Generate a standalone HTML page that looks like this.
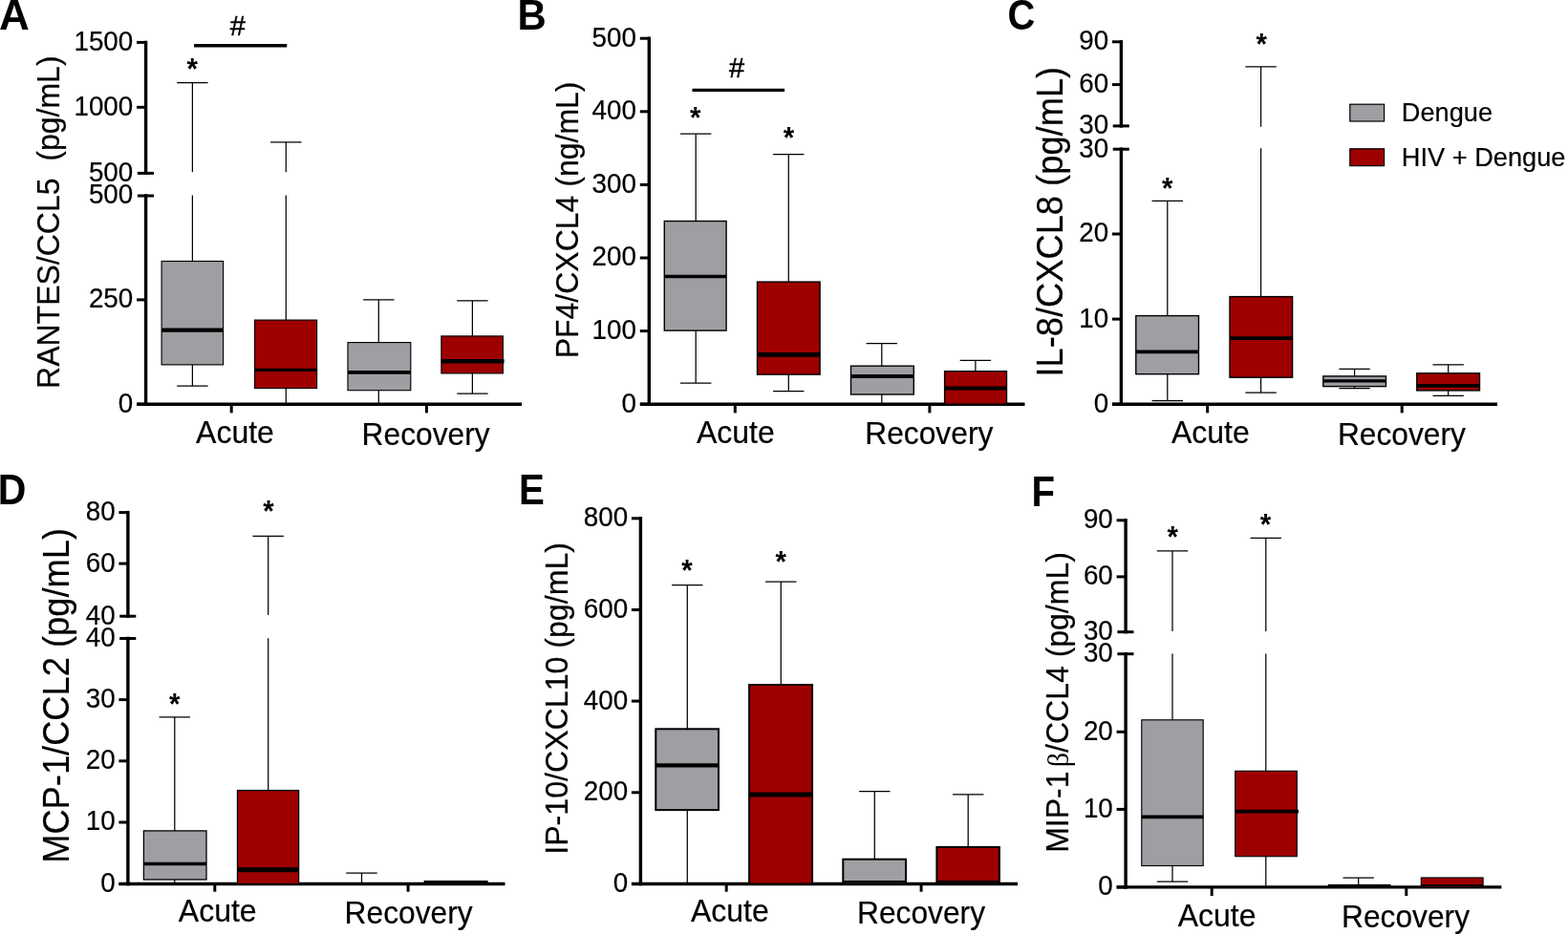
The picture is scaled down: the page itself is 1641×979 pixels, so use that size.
<!DOCTYPE html>
<html lang="en">
<head>
<meta charset="utf-8">
<title>Chemokine levels in Dengue and HIV + Dengue patients</title>
<style>
html,body{margin:0;padding:0;background:#fff;}
body{width:1641px;height:979px;overflow:hidden;}
svg{display:block;}
text{font-kerning:normal;}
</style>
</head>
<body>
<svg width="1641" height="979" viewBox="0 0 1641 979" role="img" aria-label="Box plots of chemokine levels in Dengue and HIV + Dengue patients during acute and recovery phases" font-family='"Liberation Sans", Arial, Helvetica, sans-serif' fill="#000">
<rect x="0" y="0" width="1641" height="979" fill="#fff"/>
<g id="panel-A">
<line x1="152.60" y1="42.70" x2="152.60" y2="183.10" stroke="#000" stroke-width="3.4" stroke-linecap="butt"/>
<line x1="152.60" y1="203.30" x2="152.60" y2="424.90" stroke="#000" stroke-width="3.4" stroke-linecap="butt"/>
<line x1="143.20" y1="423.20" x2="546.00" y2="423.20" stroke="#000" stroke-width="3.4" stroke-linecap="butt"/>
<line x1="143.10" y1="44.40" x2="152.60" y2="44.40" stroke="#000" stroke-width="3.0" stroke-linecap="butt"/>
<text transform="translate(139.30,52.80) scale(1.0,1.03)" font-size="27.8" text-anchor="end" stroke="#000" stroke-width="0.2" xml:space="preserve">1500</text>
<line x1="143.10" y1="112.30" x2="152.60" y2="112.30" stroke="#000" stroke-width="3.0" stroke-linecap="butt"/>
<text transform="translate(139.30,120.70) scale(1.0,1.03)" font-size="27.8" text-anchor="end" stroke="#000" stroke-width="0.2" xml:space="preserve">1000</text>
<line x1="143.90" y1="181.40" x2="161.00" y2="181.40" stroke="#000" stroke-width="3.0" stroke-linecap="butt"/>
<text transform="translate(139.30,189.80) scale(1.0,1.03)" font-size="27.8" text-anchor="end" stroke="#000" stroke-width="0.2" xml:space="preserve">500</text>
<line x1="143.90" y1="205.00" x2="161.00" y2="205.00" stroke="#000" stroke-width="3.0" stroke-linecap="butt"/>
<text transform="translate(139.30,213.40) scale(1.0,1.03)" font-size="27.8" text-anchor="end" stroke="#000" stroke-width="0.2" xml:space="preserve">500</text>
<line x1="143.10" y1="313.90" x2="152.60" y2="313.90" stroke="#000" stroke-width="3.0" stroke-linecap="butt"/>
<text transform="translate(139.30,322.30) scale(1.0,1.03)" font-size="27.8" text-anchor="end" stroke="#000" stroke-width="0.2" xml:space="preserve">250</text>
<line x1="143.10" y1="423.20" x2="152.60" y2="423.20" stroke="#000" stroke-width="3.0" stroke-linecap="butt"/>
<text transform="translate(139.30,431.60) scale(1.0,1.03)" font-size="27.8" text-anchor="end" stroke="#000" stroke-width="0.2" xml:space="preserve">0</text>
<line x1="242.20" y1="423.20" x2="242.20" y2="432.40" stroke="#000" stroke-width="3.0" stroke-linecap="butt"/>
<line x1="446.40" y1="423.20" x2="446.40" y2="432.40" stroke="#000" stroke-width="3.0" stroke-linecap="butt"/>
<text transform="translate(246.00,463.50) scale(1.0,1.03)" font-size="32" text-anchor="middle" stroke="#000" stroke-width="0.2" xml:space="preserve">Acute</text>
<text transform="translate(445.60,465.80) scale(0.992,1.03)" font-size="32" text-anchor="middle" stroke="#000" stroke-width="0.2" xml:space="preserve">Recovery</text>
<text transform="translate(-0.90,30.50) scale(1.05,1.045)" font-size="42" text-anchor="start" font-weight="bold" xml:space="preserve">A</text>
<text transform="translate(62.00,232.70) rotate(-90) scale(1.0,1.06)" font-size="32" text-anchor="middle" stroke="#000" stroke-width="0.2" xml:space="preserve">RANTES/CCL5  (pg/mL)</text>
<line x1="201.40" y1="86.60" x2="201.40" y2="180.20" stroke="#000" stroke-width="1.25" stroke-linecap="butt"/>
<line x1="201.40" y1="204.50" x2="201.40" y2="273.50" stroke="#000" stroke-width="1.25" stroke-linecap="butt"/>
<line x1="201.40" y1="381.90" x2="201.40" y2="404.20" stroke="#000" stroke-width="1.25" stroke-linecap="butt"/>
<line x1="185.20" y1="86.60" x2="217.60" y2="86.60" stroke="#000" stroke-width="1.25" stroke-linecap="butt"/>
<line x1="185.20" y1="404.20" x2="217.60" y2="404.20" stroke="#000" stroke-width="1.25" stroke-linecap="butt"/>
<rect x="169.10" y="273.50" width="64.50" height="108.40" fill="#a09ea3" stroke="#000" stroke-width="1.15"/>
<line x1="169.10" y1="345.65" x2="233.60" y2="345.65" stroke="#000" stroke-width="4.4" stroke-linecap="butt"/>
<line x1="299.30" y1="148.90" x2="299.30" y2="180.20" stroke="#000" stroke-width="1.25" stroke-linecap="butt"/>
<line x1="299.30" y1="204.50" x2="299.30" y2="335.10" stroke="#000" stroke-width="1.25" stroke-linecap="butt"/>
<line x1="299.30" y1="406.50" x2="299.30" y2="423.20" stroke="#000" stroke-width="1.25" stroke-linecap="butt"/>
<line x1="283.10" y1="148.90" x2="315.50" y2="148.90" stroke="#000" stroke-width="1.25" stroke-linecap="butt"/>
<rect x="266.50" y="335.10" width="65.10" height="71.40" fill="#9e0000" stroke="#000" stroke-width="1.15"/>
<line x1="266.50" y1="387.40" x2="331.60" y2="387.40" stroke="#000" stroke-width="3.4" stroke-linecap="butt"/>
<line x1="396.30" y1="313.80" x2="396.30" y2="358.60" stroke="#000" stroke-width="1.25" stroke-linecap="butt"/>
<line x1="396.30" y1="408.70" x2="396.30" y2="423.20" stroke="#000" stroke-width="1.25" stroke-linecap="butt"/>
<line x1="380.10" y1="313.80" x2="412.50" y2="313.80" stroke="#000" stroke-width="1.25" stroke-linecap="butt"/>
<rect x="364.00" y="358.60" width="65.80" height="50.10" fill="#a09ea3" stroke="#000" stroke-width="1.15"/>
<line x1="364.00" y1="389.80" x2="429.80" y2="389.80" stroke="#000" stroke-width="3.8" stroke-linecap="butt"/>
<line x1="494.40" y1="314.80" x2="494.40" y2="351.90" stroke="#000" stroke-width="1.25" stroke-linecap="butt"/>
<line x1="494.40" y1="390.90" x2="494.40" y2="412.20" stroke="#000" stroke-width="1.25" stroke-linecap="butt"/>
<line x1="478.20" y1="314.80" x2="510.60" y2="314.80" stroke="#000" stroke-width="1.25" stroke-linecap="butt"/>
<line x1="478.20" y1="412.20" x2="510.60" y2="412.20" stroke="#000" stroke-width="1.25" stroke-linecap="butt"/>
<rect x="461.90" y="351.90" width="64.50" height="39.00" fill="#9e0000" stroke="#000" stroke-width="1.15"/>
<line x1="461.90" y1="378.20" x2="527.60" y2="378.20" stroke="#000" stroke-width="4.4" stroke-linecap="butt"/>
<text transform="translate(201.30,82.55) scale(1.0,1.05)" font-size="29.5" text-anchor="middle" font-weight="bold" xml:space="preserve">*</text>
<line x1="203.10" y1="47.70" x2="300.30" y2="47.70" stroke="#000" stroke-width="3.4" stroke-linecap="butt"/>
<text transform="translate(248.80,37.20)" font-size="29" text-anchor="middle" stroke="#000" stroke-width="0.45" xml:space="preserve">#</text>
</g>
<g id="panel-B">
<line x1="679.30" y1="38.50" x2="679.30" y2="424.90" stroke="#000" stroke-width="3.4" stroke-linecap="butt"/>
<line x1="669.90" y1="423.20" x2="1072.50" y2="423.20" stroke="#000" stroke-width="3.4" stroke-linecap="butt"/>
<line x1="669.80" y1="40.20" x2="679.30" y2="40.20" stroke="#000" stroke-width="3.0" stroke-linecap="butt"/>
<text transform="translate(666.00,48.60) scale(1.0,1.03)" font-size="27.8" text-anchor="end" stroke="#000" stroke-width="0.2" xml:space="preserve">500</text>
<line x1="669.80" y1="116.80" x2="679.30" y2="116.80" stroke="#000" stroke-width="3.0" stroke-linecap="butt"/>
<text transform="translate(666.00,125.20) scale(1.0,1.03)" font-size="27.8" text-anchor="end" stroke="#000" stroke-width="0.2" xml:space="preserve">400</text>
<line x1="669.80" y1="193.40" x2="679.30" y2="193.40" stroke="#000" stroke-width="3.0" stroke-linecap="butt"/>
<text transform="translate(666.00,201.80) scale(1.0,1.03)" font-size="27.8" text-anchor="end" stroke="#000" stroke-width="0.2" xml:space="preserve">300</text>
<line x1="669.80" y1="270.00" x2="679.30" y2="270.00" stroke="#000" stroke-width="3.0" stroke-linecap="butt"/>
<text transform="translate(666.00,278.40) scale(1.0,1.03)" font-size="27.8" text-anchor="end" stroke="#000" stroke-width="0.2" xml:space="preserve">200</text>
<line x1="669.80" y1="346.60" x2="679.30" y2="346.60" stroke="#000" stroke-width="3.0" stroke-linecap="butt"/>
<text transform="translate(666.00,355.00) scale(1.0,1.03)" font-size="27.8" text-anchor="end" stroke="#000" stroke-width="0.2" xml:space="preserve">100</text>
<line x1="669.80" y1="423.20" x2="679.30" y2="423.20" stroke="#000" stroke-width="3.0" stroke-linecap="butt"/>
<text transform="translate(666.00,431.60) scale(1.0,1.03)" font-size="27.8" text-anchor="end" stroke="#000" stroke-width="0.2" xml:space="preserve">0</text>
<line x1="769.30" y1="423.20" x2="769.30" y2="432.40" stroke="#000" stroke-width="3.0" stroke-linecap="butt"/>
<line x1="972.90" y1="423.20" x2="972.90" y2="432.40" stroke="#000" stroke-width="3.0" stroke-linecap="butt"/>
<text transform="translate(769.90,463.50) scale(1.0,1.03)" font-size="32" text-anchor="middle" stroke="#000" stroke-width="0.2" xml:space="preserve">Acute</text>
<text transform="translate(972.30,465.20) scale(0.992,1.03)" font-size="32" text-anchor="middle" stroke="#000" stroke-width="0.2" xml:space="preserve">Recovery</text>
<text transform="translate(541.60,30.50) scale(0.996,1.045)" font-size="42" text-anchor="start" font-weight="bold" xml:space="preserve">B</text>
<text transform="translate(604.50,230.40) rotate(-90) scale(1.0,1.06)" font-size="32" text-anchor="middle" stroke="#000" stroke-width="0.2" xml:space="preserve">PF4/CXCL4 (ng/mL)</text>
<line x1="728.20" y1="140.20" x2="728.20" y2="231.50" stroke="#000" stroke-width="1.25" stroke-linecap="butt"/>
<line x1="728.20" y1="346.10" x2="728.20" y2="401.00" stroke="#000" stroke-width="1.25" stroke-linecap="butt"/>
<line x1="712.00" y1="140.20" x2="744.40" y2="140.20" stroke="#000" stroke-width="1.25" stroke-linecap="butt"/>
<line x1="712.00" y1="401.00" x2="744.40" y2="401.00" stroke="#000" stroke-width="1.25" stroke-linecap="butt"/>
<rect x="695.30" y="231.50" width="64.80" height="114.60" fill="#a09ea3" stroke="#000" stroke-width="1.4"/>
<line x1="695.30" y1="289.40" x2="760.10" y2="289.40" stroke="#000" stroke-width="3.5" stroke-linecap="butt"/>
<line x1="825.30" y1="161.50" x2="825.30" y2="295.10" stroke="#000" stroke-width="1.25" stroke-linecap="butt"/>
<line x1="825.30" y1="392.10" x2="825.30" y2="409.70" stroke="#000" stroke-width="1.25" stroke-linecap="butt"/>
<line x1="809.10" y1="161.50" x2="841.50" y2="161.50" stroke="#000" stroke-width="1.25" stroke-linecap="butt"/>
<line x1="809.10" y1="409.70" x2="841.50" y2="409.70" stroke="#000" stroke-width="1.25" stroke-linecap="butt"/>
<rect x="792.50" y="295.10" width="65.60" height="97.00" fill="#9e0000" stroke="#000" stroke-width="1.4"/>
<line x1="792.50" y1="371.40" x2="858.10" y2="371.40" stroke="#000" stroke-width="4.6" stroke-linecap="butt"/>
<line x1="922.80" y1="359.60" x2="922.80" y2="383.20" stroke="#000" stroke-width="1.25" stroke-linecap="butt"/>
<line x1="922.80" y1="413.00" x2="922.80" y2="423.20" stroke="#000" stroke-width="1.25" stroke-linecap="butt"/>
<line x1="906.60" y1="359.60" x2="939.00" y2="359.60" stroke="#000" stroke-width="1.25" stroke-linecap="butt"/>
<rect x="890.50" y="383.20" width="65.80" height="29.80" fill="#a09ea3" stroke="#000" stroke-width="1.4"/>
<line x1="890.50" y1="394.00" x2="956.30" y2="394.00" stroke="#000" stroke-width="3.9" stroke-linecap="butt"/>
<line x1="1020.90" y1="377.40" x2="1020.90" y2="388.70" stroke="#000" stroke-width="1.25" stroke-linecap="butt"/>
<line x1="1004.70" y1="377.40" x2="1037.10" y2="377.40" stroke="#000" stroke-width="1.25" stroke-linecap="butt"/>
<rect x="988.60" y="388.70" width="64.90" height="34.50" fill="#9e0000" stroke="#000" stroke-width="1.4"/>
<line x1="988.60" y1="406.50" x2="1053.50" y2="406.50" stroke="#000" stroke-width="4.2" stroke-linecap="butt"/>
<text transform="translate(727.70,134.05) scale(1.0,1.05)" font-size="29.5" text-anchor="middle" font-weight="bold" xml:space="preserve">*</text>
<text transform="translate(825.40,155.15) scale(1.0,1.05)" font-size="29.5" text-anchor="middle" font-weight="bold" xml:space="preserve">*</text>
<line x1="724.50" y1="94.40" x2="821.10" y2="94.40" stroke="#000" stroke-width="3.4" stroke-linecap="butt"/>
<text transform="translate(771.00,81.30)" font-size="29" text-anchor="middle" stroke="#000" stroke-width="0.45" xml:space="preserve">#</text>
</g>
<g id="panel-C">
<line x1="1173.40" y1="42.10" x2="1173.40" y2="133.60" stroke="#000" stroke-width="3.4" stroke-linecap="butt"/>
<line x1="1173.40" y1="154.50" x2="1173.40" y2="424.90" stroke="#000" stroke-width="3.4" stroke-linecap="butt"/>
<line x1="1164.00" y1="423.20" x2="1567.00" y2="423.20" stroke="#000" stroke-width="3.4" stroke-linecap="butt"/>
<line x1="1163.90" y1="43.80" x2="1173.40" y2="43.80" stroke="#000" stroke-width="3.0" stroke-linecap="butt"/>
<text transform="translate(1160.10,52.20) scale(1.0,1.03)" font-size="27.8" text-anchor="end" stroke="#000" stroke-width="0.2" xml:space="preserve">90</text>
<line x1="1163.90" y1="88.60" x2="1173.40" y2="88.60" stroke="#000" stroke-width="3.0" stroke-linecap="butt"/>
<text transform="translate(1160.10,97.00) scale(1.0,1.03)" font-size="27.8" text-anchor="end" stroke="#000" stroke-width="0.2" xml:space="preserve">60</text>
<line x1="1164.70" y1="131.90" x2="1181.80" y2="131.90" stroke="#000" stroke-width="3.0" stroke-linecap="butt"/>
<text transform="translate(1160.10,140.30) scale(1.0,1.03)" font-size="27.8" text-anchor="end" stroke="#000" stroke-width="0.2" xml:space="preserve">30</text>
<line x1="1164.70" y1="156.20" x2="1181.80" y2="156.20" stroke="#000" stroke-width="3.0" stroke-linecap="butt"/>
<text transform="translate(1160.10,164.60) scale(1.0,1.03)" font-size="27.8" text-anchor="end" stroke="#000" stroke-width="0.2" xml:space="preserve">30</text>
<line x1="1163.90" y1="245.00" x2="1173.40" y2="245.00" stroke="#000" stroke-width="3.0" stroke-linecap="butt"/>
<text transform="translate(1160.10,253.40) scale(1.0,1.03)" font-size="27.8" text-anchor="end" stroke="#000" stroke-width="0.2" xml:space="preserve">20</text>
<line x1="1163.90" y1="334.10" x2="1173.40" y2="334.10" stroke="#000" stroke-width="3.0" stroke-linecap="butt"/>
<text transform="translate(1160.10,342.50) scale(1.0,1.03)" font-size="27.8" text-anchor="end" stroke="#000" stroke-width="0.2" xml:space="preserve">10</text>
<line x1="1163.90" y1="423.20" x2="1173.40" y2="423.20" stroke="#000" stroke-width="3.0" stroke-linecap="butt"/>
<text transform="translate(1160.10,431.60) scale(1.0,1.03)" font-size="27.8" text-anchor="end" stroke="#000" stroke-width="0.2" xml:space="preserve">0</text>
<line x1="1263.70" y1="423.20" x2="1263.70" y2="432.40" stroke="#000" stroke-width="3.0" stroke-linecap="butt"/>
<line x1="1467.20" y1="423.20" x2="1467.20" y2="432.40" stroke="#000" stroke-width="3.0" stroke-linecap="butt"/>
<text transform="translate(1266.90,463.50) scale(1.0,1.03)" font-size="32" text-anchor="middle" stroke="#000" stroke-width="0.2" xml:space="preserve">Acute</text>
<text transform="translate(1466.90,465.80) scale(0.992,1.03)" font-size="32" text-anchor="middle" stroke="#000" stroke-width="0.2" xml:space="preserve">Recovery</text>
<text transform="translate(1054.56,30.50) scale(0.95,1.045)" font-size="42" text-anchor="start" font-weight="bold" xml:space="preserve">C</text>
<text transform="translate(1111.70,232.20) rotate(-90) scale(1.0,1.06)" font-size="36.3" text-anchor="middle" stroke="#000" stroke-width="0.2" xml:space="preserve">IL-8/CXCL8 (pg/mL)</text>
<line x1="1221.80" y1="210.30" x2="1221.80" y2="330.60" stroke="#000" stroke-width="1.25" stroke-linecap="butt"/>
<line x1="1221.80" y1="391.70" x2="1221.80" y2="419.70" stroke="#000" stroke-width="1.25" stroke-linecap="butt"/>
<line x1="1205.60" y1="210.30" x2="1238.00" y2="210.30" stroke="#000" stroke-width="1.25" stroke-linecap="butt"/>
<line x1="1205.60" y1="419.70" x2="1238.00" y2="419.70" stroke="#000" stroke-width="1.25" stroke-linecap="butt"/>
<rect x="1188.80" y="330.60" width="65.70" height="61.10" fill="#a09ea3" stroke="#000" stroke-width="1.4"/>
<line x1="1188.80" y1="368.40" x2="1254.50" y2="368.40" stroke="#000" stroke-width="3.7" stroke-linecap="butt"/>
<line x1="1319.60" y1="69.80" x2="1319.60" y2="132.70" stroke="#000" stroke-width="1.25" stroke-linecap="butt"/>
<line x1="1319.60" y1="155.20" x2="1319.60" y2="310.60" stroke="#000" stroke-width="1.25" stroke-linecap="butt"/>
<line x1="1319.60" y1="395.20" x2="1319.60" y2="411.00" stroke="#000" stroke-width="1.25" stroke-linecap="butt"/>
<line x1="1303.40" y1="69.80" x2="1335.80" y2="69.80" stroke="#000" stroke-width="1.25" stroke-linecap="butt"/>
<line x1="1303.40" y1="411.00" x2="1335.80" y2="411.00" stroke="#000" stroke-width="1.25" stroke-linecap="butt"/>
<rect x="1287.00" y="310.60" width="65.60" height="84.60" fill="#9e0000" stroke="#000" stroke-width="1.4"/>
<line x1="1287.00" y1="354.10" x2="1352.60" y2="354.10" stroke="#000" stroke-width="3.7" stroke-linecap="butt"/>
<line x1="1417.60" y1="386.40" x2="1417.60" y2="393.90" stroke="#000" stroke-width="1.25" stroke-linecap="butt"/>
<line x1="1417.60" y1="404.60" x2="1417.60" y2="406.50" stroke="#000" stroke-width="1.25" stroke-linecap="butt"/>
<line x1="1401.40" y1="386.40" x2="1433.80" y2="386.40" stroke="#000" stroke-width="1.25" stroke-linecap="butt"/>
<line x1="1401.40" y1="406.50" x2="1433.80" y2="406.50" stroke="#000" stroke-width="1.25" stroke-linecap="butt"/>
<rect x="1384.80" y="393.90" width="65.70" height="10.70" fill="#a09ea3" stroke="#000" stroke-width="1.4"/>
<line x1="1384.80" y1="398.90" x2="1450.50" y2="398.90" stroke="#000" stroke-width="3.2" stroke-linecap="butt"/>
<line x1="1515.70" y1="381.85" x2="1515.70" y2="390.80" stroke="#000" stroke-width="1.25" stroke-linecap="butt"/>
<line x1="1515.70" y1="408.90" x2="1515.70" y2="414.30" stroke="#000" stroke-width="1.25" stroke-linecap="butt"/>
<line x1="1499.50" y1="381.85" x2="1531.90" y2="381.85" stroke="#000" stroke-width="1.25" stroke-linecap="butt"/>
<line x1="1499.50" y1="414.30" x2="1531.90" y2="414.30" stroke="#000" stroke-width="1.25" stroke-linecap="butt"/>
<rect x="1482.80" y="390.80" width="65.70" height="18.10" fill="#9e0000" stroke="#000" stroke-width="1.4"/>
<line x1="1482.80" y1="403.80" x2="1548.50" y2="403.80" stroke="#000" stroke-width="3.7" stroke-linecap="butt"/>
<text transform="translate(1221.70,207.65) scale(1.0,1.05)" font-size="29.5" text-anchor="middle" font-weight="bold" xml:space="preserve">*</text>
<text transform="translate(1320.30,57.20) scale(1.0,1.05)" font-size="29.5" text-anchor="middle" font-weight="bold" xml:space="preserve">*</text>
</g>
<g id="panel-D">
<line x1="133.90" y1="534.90" x2="133.90" y2="646.90" stroke="#000" stroke-width="3.4" stroke-linecap="butt"/>
<line x1="133.90" y1="666.80" x2="133.90" y2="927.20" stroke="#000" stroke-width="3.4" stroke-linecap="butt"/>
<line x1="124.50" y1="925.50" x2="528.50" y2="925.50" stroke="#000" stroke-width="3.4" stroke-linecap="butt"/>
<line x1="124.40" y1="536.60" x2="133.90" y2="536.60" stroke="#000" stroke-width="3.0" stroke-linecap="butt"/>
<text transform="translate(120.60,545.00) scale(1.0,1.03)" font-size="27.8" text-anchor="end" stroke="#000" stroke-width="0.2" xml:space="preserve">80</text>
<line x1="124.40" y1="590.10" x2="133.90" y2="590.10" stroke="#000" stroke-width="3.0" stroke-linecap="butt"/>
<text transform="translate(120.60,598.50) scale(1.0,1.03)" font-size="27.8" text-anchor="end" stroke="#000" stroke-width="0.2" xml:space="preserve">60</text>
<line x1="125.20" y1="645.20" x2="142.30" y2="645.20" stroke="#000" stroke-width="3.0" stroke-linecap="butt"/>
<text transform="translate(120.60,653.60) scale(1.0,1.03)" font-size="27.8" text-anchor="end" stroke="#000" stroke-width="0.2" xml:space="preserve">40</text>
<line x1="125.20" y1="668.50" x2="142.30" y2="668.50" stroke="#000" stroke-width="3.0" stroke-linecap="butt"/>
<text transform="translate(120.60,676.90) scale(1.0,1.03)" font-size="27.8" text-anchor="end" stroke="#000" stroke-width="0.2" xml:space="preserve">40</text>
<line x1="124.40" y1="732.60" x2="133.90" y2="732.60" stroke="#000" stroke-width="3.0" stroke-linecap="butt"/>
<text transform="translate(120.60,741.00) scale(1.0,1.03)" font-size="27.8" text-anchor="end" stroke="#000" stroke-width="0.2" xml:space="preserve">30</text>
<line x1="124.40" y1="796.80" x2="133.90" y2="796.80" stroke="#000" stroke-width="3.0" stroke-linecap="butt"/>
<text transform="translate(120.60,805.20) scale(1.0,1.03)" font-size="27.8" text-anchor="end" stroke="#000" stroke-width="0.2" xml:space="preserve">20</text>
<line x1="124.40" y1="861.00" x2="133.90" y2="861.00" stroke="#000" stroke-width="3.0" stroke-linecap="butt"/>
<text transform="translate(120.60,869.40) scale(1.0,1.03)" font-size="27.8" text-anchor="end" stroke="#000" stroke-width="0.2" xml:space="preserve">10</text>
<line x1="124.40" y1="925.50" x2="133.90" y2="925.50" stroke="#000" stroke-width="3.0" stroke-linecap="butt"/>
<text transform="translate(120.60,933.90) scale(1.0,1.03)" font-size="27.8" text-anchor="end" stroke="#000" stroke-width="0.2" xml:space="preserve">0</text>
<line x1="224.80" y1="925.50" x2="224.80" y2="933.70" stroke="#000" stroke-width="3.0" stroke-linecap="butt"/>
<line x1="427.10" y1="925.50" x2="427.10" y2="933.70" stroke="#000" stroke-width="3.0" stroke-linecap="butt"/>
<text transform="translate(227.70,965.30) scale(1.0,1.03)" font-size="32" text-anchor="middle" stroke="#000" stroke-width="0.2" xml:space="preserve">Acute</text>
<text transform="translate(427.60,966.60) scale(0.992,1.03)" font-size="32" text-anchor="middle" stroke="#000" stroke-width="0.2" xml:space="preserve">Recovery</text>
<text transform="translate(-2.35,528.40) scale(0.978,1.045)" font-size="42" text-anchor="start" font-weight="bold" xml:space="preserve">D</text>
<text transform="translate(71.70,728.40) rotate(-90) scale(1.0,1.06)" font-size="36.3" text-anchor="middle" stroke="#000" stroke-width="0.2" xml:space="preserve">MCP-1/CCL2 (pg/mL)</text>
<line x1="182.80" y1="750.80" x2="182.80" y2="869.90" stroke="#000" stroke-width="1.25" stroke-linecap="butt"/>
<line x1="182.80" y1="921.00" x2="182.80" y2="925.50" stroke="#000" stroke-width="1.25" stroke-linecap="butt"/>
<line x1="166.60" y1="750.80" x2="199.00" y2="750.80" stroke="#000" stroke-width="1.25" stroke-linecap="butt"/>
<rect x="150.40" y="869.90" width="65.60" height="51.10" fill="#a09ea3" stroke="#000" stroke-width="1.3"/>
<line x1="150.40" y1="904.40" x2="216.00" y2="904.40" stroke="#000" stroke-width="3.5" stroke-linecap="butt"/>
<line x1="280.70" y1="561.30" x2="280.70" y2="644.00" stroke="#000" stroke-width="1.25" stroke-linecap="butt"/>
<line x1="280.70" y1="668.20" x2="280.70" y2="827.60" stroke="#000" stroke-width="1.25" stroke-linecap="butt"/>
<line x1="264.50" y1="561.30" x2="296.90" y2="561.30" stroke="#000" stroke-width="1.25" stroke-linecap="butt"/>
<rect x="248.50" y="827.60" width="64.10" height="97.90" fill="#9e0000" stroke="#000" stroke-width="1.3"/>
<line x1="248.50" y1="910.70" x2="312.60" y2="910.70" stroke="#000" stroke-width="5.0" stroke-linecap="butt"/>
<line x1="378.50" y1="914.20" x2="378.50" y2="925.50" stroke="#000" stroke-width="1.25" stroke-linecap="butt"/>
<line x1="362.30" y1="914.20" x2="394.70" y2="914.20" stroke="#000" stroke-width="1.25" stroke-linecap="butt"/>
<rect x="444.30" y="922.60" width="65.70" height="1.40" fill="#9e0000" stroke="#000" stroke-width="1.3"/>
<line x1="444.30" y1="923.20" x2="510.00" y2="923.20" stroke="#000" stroke-width="2.5" stroke-linecap="butt"/>
<text transform="translate(182.70,748.05) scale(1.0,1.05)" font-size="29.5" text-anchor="middle" font-weight="bold" xml:space="preserve">*</text>
<text transform="translate(280.90,546.45) scale(1.0,1.05)" font-size="29.5" text-anchor="middle" font-weight="bold" xml:space="preserve">*</text>
</g>
<g id="panel-E">
<line x1="670.40" y1="541.10" x2="670.40" y2="927.20" stroke="#000" stroke-width="3.4" stroke-linecap="butt"/>
<line x1="661.00" y1="925.50" x2="1065.00" y2="925.50" stroke="#000" stroke-width="3.4" stroke-linecap="butt"/>
<line x1="660.90" y1="542.80" x2="670.40" y2="542.80" stroke="#000" stroke-width="3.0" stroke-linecap="butt"/>
<text transform="translate(657.10,551.20) scale(1.0,1.03)" font-size="27.8" text-anchor="end" stroke="#000" stroke-width="0.2" xml:space="preserve">800</text>
<line x1="660.90" y1="638.50" x2="670.40" y2="638.50" stroke="#000" stroke-width="3.0" stroke-linecap="butt"/>
<text transform="translate(657.10,646.90) scale(1.0,1.03)" font-size="27.8" text-anchor="end" stroke="#000" stroke-width="0.2" xml:space="preserve">600</text>
<line x1="660.90" y1="734.10" x2="670.40" y2="734.10" stroke="#000" stroke-width="3.0" stroke-linecap="butt"/>
<text transform="translate(657.10,742.50) scale(1.0,1.03)" font-size="27.8" text-anchor="end" stroke="#000" stroke-width="0.2" xml:space="preserve">400</text>
<line x1="660.90" y1="829.80" x2="670.40" y2="829.80" stroke="#000" stroke-width="3.0" stroke-linecap="butt"/>
<text transform="translate(657.10,838.20) scale(1.0,1.03)" font-size="27.8" text-anchor="end" stroke="#000" stroke-width="0.2" xml:space="preserve">200</text>
<line x1="660.90" y1="925.50" x2="670.40" y2="925.50" stroke="#000" stroke-width="3.0" stroke-linecap="butt"/>
<text transform="translate(657.10,933.90) scale(1.0,1.03)" font-size="27.8" text-anchor="end" stroke="#000" stroke-width="0.2" xml:space="preserve">0</text>
<line x1="760.20" y1="925.50" x2="760.20" y2="933.70" stroke="#000" stroke-width="3.0" stroke-linecap="butt"/>
<line x1="964.10" y1="925.50" x2="964.10" y2="933.70" stroke="#000" stroke-width="3.0" stroke-linecap="butt"/>
<text transform="translate(763.90,965.40) scale(1.0,1.03)" font-size="32" text-anchor="middle" stroke="#000" stroke-width="0.2" xml:space="preserve">Acute</text>
<text transform="translate(964.00,966.80) scale(0.992,1.03)" font-size="32" text-anchor="middle" stroke="#000" stroke-width="0.2" xml:space="preserve">Recovery</text>
<text transform="translate(543.00,528.30) scale(0.959,1.045)" font-size="42" text-anchor="start" font-weight="bold" xml:space="preserve">E</text>
<text transform="translate(594.40,731.40) rotate(-90) scale(1.0,1.06)" font-size="32.15" text-anchor="middle" stroke="#000" stroke-width="0.2" xml:space="preserve">IP-10/CXCL10 (pg/mL)</text>
<line x1="719.30" y1="612.70" x2="719.30" y2="763.30" stroke="#000" stroke-width="1.25" stroke-linecap="butt"/>
<line x1="719.30" y1="848.10" x2="719.30" y2="925.50" stroke="#000" stroke-width="1.25" stroke-linecap="butt"/>
<line x1="703.10" y1="612.70" x2="735.50" y2="612.70" stroke="#000" stroke-width="1.25" stroke-linecap="butt"/>
<rect x="686.30" y="763.30" width="65.70" height="84.80" fill="#a09ea3" stroke="#000" stroke-width="2.0"/>
<line x1="686.30" y1="801.40" x2="752.00" y2="801.40" stroke="#000" stroke-width="4.2" stroke-linecap="butt"/>
<line x1="817.30" y1="609.10" x2="817.30" y2="717.00" stroke="#000" stroke-width="1.25" stroke-linecap="butt"/>
<line x1="801.10" y1="609.10" x2="833.50" y2="609.10" stroke="#000" stroke-width="1.25" stroke-linecap="butt"/>
<rect x="784.10" y="717.00" width="66.00" height="208.50" fill="#9e0000" stroke="#000" stroke-width="2.0"/>
<line x1="784.10" y1="831.90" x2="850.10" y2="831.90" stroke="#000" stroke-width="5.0" stroke-linecap="butt"/>
<line x1="915.30" y1="828.60" x2="915.30" y2="899.70" stroke="#000" stroke-width="1.25" stroke-linecap="butt"/>
<line x1="899.10" y1="828.60" x2="931.50" y2="828.60" stroke="#000" stroke-width="1.25" stroke-linecap="butt"/>
<rect x="882.30" y="899.70" width="65.80" height="25.80" fill="#a09ea3" stroke="#000" stroke-width="2.0"/>
<line x1="882.30" y1="923.30" x2="948.10" y2="923.30" stroke="#000" stroke-width="2.8" stroke-linecap="butt"/>
<line x1="1013.20" y1="831.90" x2="1013.20" y2="886.90" stroke="#000" stroke-width="1.25" stroke-linecap="butt"/>
<line x1="997.00" y1="831.90" x2="1029.40" y2="831.90" stroke="#000" stroke-width="1.25" stroke-linecap="butt"/>
<rect x="980.40" y="886.90" width="65.50" height="38.60" fill="#9e0000" stroke="#000" stroke-width="2.0"/>
<line x1="980.40" y1="923.30" x2="1045.90" y2="923.30" stroke="#000" stroke-width="2.8" stroke-linecap="butt"/>
<text transform="translate(719.00,607.55) scale(1.0,1.05)" font-size="29.5" text-anchor="middle" font-weight="bold" xml:space="preserve">*</text>
<text transform="translate(817.30,599.30) scale(1.0,1.05)" font-size="29.5" text-anchor="middle" font-weight="bold" xml:space="preserve">*</text>
</g>
<g id="panel-F">
<line x1="1178.10" y1="543.10" x2="1178.10" y2="663.40" stroke="#000" stroke-width="3.4" stroke-linecap="butt"/>
<line x1="1178.10" y1="683.00" x2="1178.10" y2="930.60" stroke="#000" stroke-width="3.4" stroke-linecap="butt"/>
<line x1="1168.70" y1="928.90" x2="1571.40" y2="928.90" stroke="#000" stroke-width="3.4" stroke-linecap="butt"/>
<line x1="1168.60" y1="544.80" x2="1178.10" y2="544.80" stroke="#000" stroke-width="3.0" stroke-linecap="butt"/>
<text transform="translate(1164.80,553.20) scale(1.0,1.03)" font-size="27.8" text-anchor="end" stroke="#000" stroke-width="0.2" xml:space="preserve">90</text>
<line x1="1168.60" y1="603.90" x2="1178.10" y2="603.90" stroke="#000" stroke-width="3.0" stroke-linecap="butt"/>
<text transform="translate(1164.80,612.30) scale(1.0,1.03)" font-size="27.8" text-anchor="end" stroke="#000" stroke-width="0.2" xml:space="preserve">60</text>
<line x1="1169.40" y1="661.70" x2="1186.50" y2="661.70" stroke="#000" stroke-width="3.0" stroke-linecap="butt"/>
<text transform="translate(1164.80,670.10) scale(1.0,1.03)" font-size="27.8" text-anchor="end" stroke="#000" stroke-width="0.2" xml:space="preserve">30</text>
<line x1="1169.40" y1="684.70" x2="1186.50" y2="684.70" stroke="#000" stroke-width="3.0" stroke-linecap="butt"/>
<text transform="translate(1164.80,693.10) scale(1.0,1.03)" font-size="27.8" text-anchor="end" stroke="#000" stroke-width="0.2" xml:space="preserve">30</text>
<line x1="1168.60" y1="766.30" x2="1178.10" y2="766.30" stroke="#000" stroke-width="3.0" stroke-linecap="butt"/>
<text transform="translate(1164.80,774.70) scale(1.0,1.03)" font-size="27.8" text-anchor="end" stroke="#000" stroke-width="0.2" xml:space="preserve">20</text>
<line x1="1168.60" y1="847.40" x2="1178.10" y2="847.40" stroke="#000" stroke-width="3.0" stroke-linecap="butt"/>
<text transform="translate(1164.80,855.80) scale(1.0,1.03)" font-size="27.8" text-anchor="end" stroke="#000" stroke-width="0.2" xml:space="preserve">10</text>
<line x1="1168.60" y1="928.90" x2="1178.10" y2="928.90" stroke="#000" stroke-width="3.0" stroke-linecap="butt"/>
<text transform="translate(1164.80,937.30) scale(1.0,1.03)" font-size="27.8" text-anchor="end" stroke="#000" stroke-width="0.2" xml:space="preserve">0</text>
<line x1="1268.20" y1="928.90" x2="1268.20" y2="938.10" stroke="#000" stroke-width="3.0" stroke-linecap="butt"/>
<line x1="1471.80" y1="928.90" x2="1471.80" y2="938.10" stroke="#000" stroke-width="3.0" stroke-linecap="butt"/>
<text transform="translate(1273.60,969.60) scale(1.0,1.03)" font-size="32" text-anchor="middle" stroke="#000" stroke-width="0.2" xml:space="preserve">Acute</text>
<text transform="translate(1471.00,970.90) scale(0.992,1.03)" font-size="32" text-anchor="middle" stroke="#000" stroke-width="0.2" xml:space="preserve">Recovery</text>
<text transform="translate(1079.60,530.40) scale(0.957,1.045)" font-size="42" text-anchor="start" font-weight="bold" xml:space="preserve">F</text>
<text transform="translate(1118.40,735.50) rotate(-90) scale(1.0,1.06)" font-size="32" text-anchor="middle" stroke="#000" stroke-width="0.2" xml:space="preserve">MIP-1<tspan dx="4.3" font-size="30" stroke="none" font-family="'Liberation Serif', 'DejaVu Serif', serif">β</tspan>/CCL4 (pg/mL)</text>
<line x1="1227.00" y1="576.90" x2="1227.00" y2="661.00" stroke="#000" stroke-width="1.25" stroke-linecap="butt"/>
<line x1="1227.00" y1="684.50" x2="1227.00" y2="753.80" stroke="#000" stroke-width="1.25" stroke-linecap="butt"/>
<line x1="1227.00" y1="906.50" x2="1227.00" y2="923.20" stroke="#000" stroke-width="1.25" stroke-linecap="butt"/>
<line x1="1210.80" y1="576.90" x2="1243.20" y2="576.90" stroke="#000" stroke-width="1.25" stroke-linecap="butt"/>
<line x1="1210.80" y1="923.20" x2="1243.20" y2="923.20" stroke="#000" stroke-width="1.25" stroke-linecap="butt"/>
<rect x="1194.80" y="753.80" width="64.40" height="152.70" fill="#a09ea3" stroke="#000" stroke-width="1.15"/>
<line x1="1194.80" y1="855.40" x2="1259.20" y2="855.40" stroke="#000" stroke-width="3.7" stroke-linecap="butt"/>
<line x1="1324.80" y1="563.30" x2="1324.80" y2="661.00" stroke="#000" stroke-width="1.25" stroke-linecap="butt"/>
<line x1="1324.80" y1="684.50" x2="1324.80" y2="807.30" stroke="#000" stroke-width="1.25" stroke-linecap="butt"/>
<line x1="1324.80" y1="896.70" x2="1324.80" y2="928.50" stroke="#000" stroke-width="1.25" stroke-linecap="butt"/>
<line x1="1308.60" y1="563.30" x2="1341.00" y2="563.30" stroke="#000" stroke-width="1.25" stroke-linecap="butt"/>
<rect x="1292.70" y="807.30" width="64.60" height="89.40" fill="#9e0000" stroke="#000" stroke-width="1.15"/>
<line x1="1292.50" y1="849.60" x2="1359.00" y2="849.60" stroke="#000" stroke-width="3.7" stroke-linecap="butt"/>
<line x1="1421.70" y1="919.00" x2="1421.70" y2="926.00" stroke="#000" stroke-width="1.25" stroke-linecap="butt"/>
<line x1="1405.50" y1="919.00" x2="1437.90" y2="919.00" stroke="#000" stroke-width="1.25" stroke-linecap="butt"/>
<rect x="1390.60" y="926.50" width="64.40" height="1.40" fill="#a09ea3" stroke="#000" stroke-width="1.15"/>
<line x1="1390.60" y1="927.20" x2="1455.00" y2="927.20" stroke="#000" stroke-width="2.0" stroke-linecap="butt"/>
<rect x="1487.30" y="919.00" width="64.80" height="9.90" fill="#9e0000" stroke="#000" stroke-width="1.15"/>
<line x1="1487.30" y1="927.00" x2="1552.10" y2="927.00" stroke="#000" stroke-width="2.2" stroke-linecap="butt"/>
<text transform="translate(1227.20,572.50) scale(1.0,1.05)" font-size="29.5" text-anchor="middle" font-weight="bold" xml:space="preserve">*</text>
<text transform="translate(1324.60,559.75) scale(1.0,1.05)" font-size="29.5" text-anchor="middle" font-weight="bold" xml:space="preserve">*</text>
</g>
<g id="legend">
<rect x="1412.8" y="109.2" width="35.8" height="17.8" fill="#a09ea3" stroke="#000" stroke-width="1.2"/>
<rect x="1412.8" y="155.8" width="35.8" height="17.8" fill="#9e0000" stroke="#000" stroke-width="1.2"/>
<text transform="translate(1466.80,126.80) scale(1.0,1.02)" font-size="27.2" text-anchor="start" stroke="#000" stroke-width="0.2" xml:space="preserve">Dengue</text>
<text transform="translate(1466.80,173.50) scale(1.0,1.02)" font-size="27.2" text-anchor="start" stroke="#000" stroke-width="0.2" xml:space="preserve">HIV + Dengue</text>
</g>
</svg>
</body>
</html>
